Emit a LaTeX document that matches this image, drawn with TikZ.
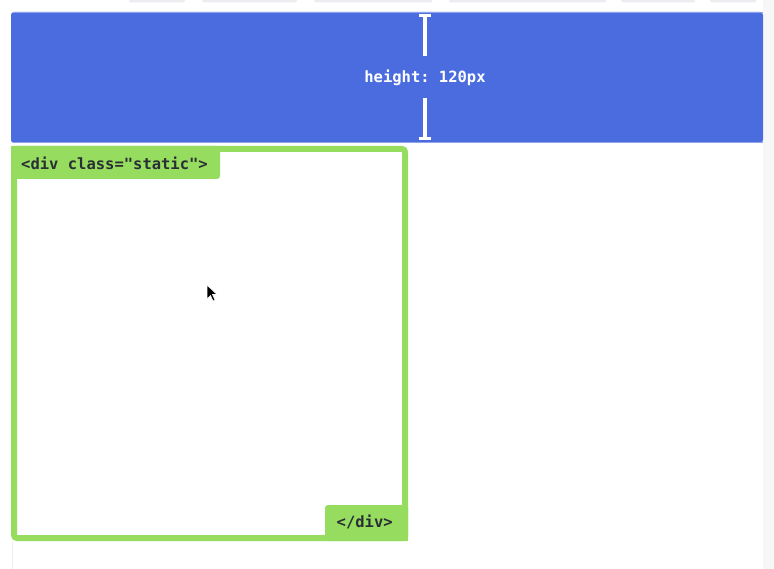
\documentclass[tikz,border=0pt]{standalone}
\usepackage{fontspec}
\setmonofont{DejaVu Sans Mono}
\definecolor{bandblue}{HTML}{4B6CDF}
\definecolor{bandedge}{HTML}{8EA3EE}
\definecolor{divgreen}{HTML}{96DC5F}
\definecolor{codeink}{HTML}{2A2E35}
\definecolor{tabgray}{HTML}{ECEDF1}
\definecolor{stripgray}{HTML}{F7F7F8}
\tikzset{
  codelabel/.style={font=\ttfamily\bfseries\fontsize{15.5}{18}\selectfont, inner sep=0pt},
  dimline/.style={draw=white, line width=4pt},
  dimcap/.style={draw=white, line width=3pt},
}
\begin{document}
\begin{tikzpicture}[x=1pt,y=-1pt]
\useasboundingbox (0,0) rectangle (774,569);
\fill[white] (0,0) rectangle (774,569);
% faint tabs at top
\foreach \a/\b in {129/185,202/297,314/432,449/606,621/695,710/756}
  \fill[tabgray, rounded corners=1.5pt] (\a,-3) rectangle (\b,2.5);
% right gray strip
\fill[stripgray] (763,0) rectangle (774,569);
% blue band
\fill[bandblue, rounded corners=3pt] (11,12) rectangle (763,143);
\draw[bandedge, line width=1pt] (13,12.5) -- (763,12.5);
\draw[bandedge, line width=1pt] (13,142.5) -- (763,142.5);
% dimension
\coordinate (dtop) at (425,16);
\coordinate (dtopend) at (425,56);
\coordinate (dbot) at (425,98);
\coordinate (dbotend) at (425,139);
\node[codelabel, text=white] (hlabel) at (425,77.5) {height: 120px};
\draw[dimline] (dtop) -- (dtopend);
\draw[dimline] (dbot) -- (dbotend);
\draw[dimcap] ([xshift=-6pt]dtop) -- ([xshift=6pt]dtop);
\draw[dimcap] ([xshift=-6pt]dbotend) -- ([xshift=6pt]dbotend);
% green div frame
\draw[divgreen, line width=6pt, rounded corners=3pt] (14,149) rectangle (405,538);
\fill[divgreen, rounded corners=3pt] (11,146) -- (220,146) -- (220,179) -- (11,179) -- cycle;
\fill[divgreen] (11,146) rectangle (30,179);
\fill[divgreen] (11,146) rectangle (220,160);
\fill[divgreen, rounded corners=3pt] (325,505) -- (408,505) -- (408,541) -- (325,541) -- cycle;
\fill[divgreen] (390,505) rectangle (408,541);
\fill[divgreen] (325,525) rectangle (408,541);
\node[codelabel, text=codeink, anchor=west] (opentag) at (21,163) {<div class="static">};
\node[codelabel, text=codeink, anchor=west] (closetag) at (336.5,522) {</div>};
% faint line below
\draw[tabgray, line width=1pt] (12.5,542) -- (12.5,569);
% mouse cursor
\fill[black, draw=white, line width=0.6pt] (207,285) -- (207,299) -- (210.5,295.5) -- (213,301) -- (215,300) -- (212.5,294.5) -- (217,294.5) -- cycle;
\end{tikzpicture}
\end{document}
